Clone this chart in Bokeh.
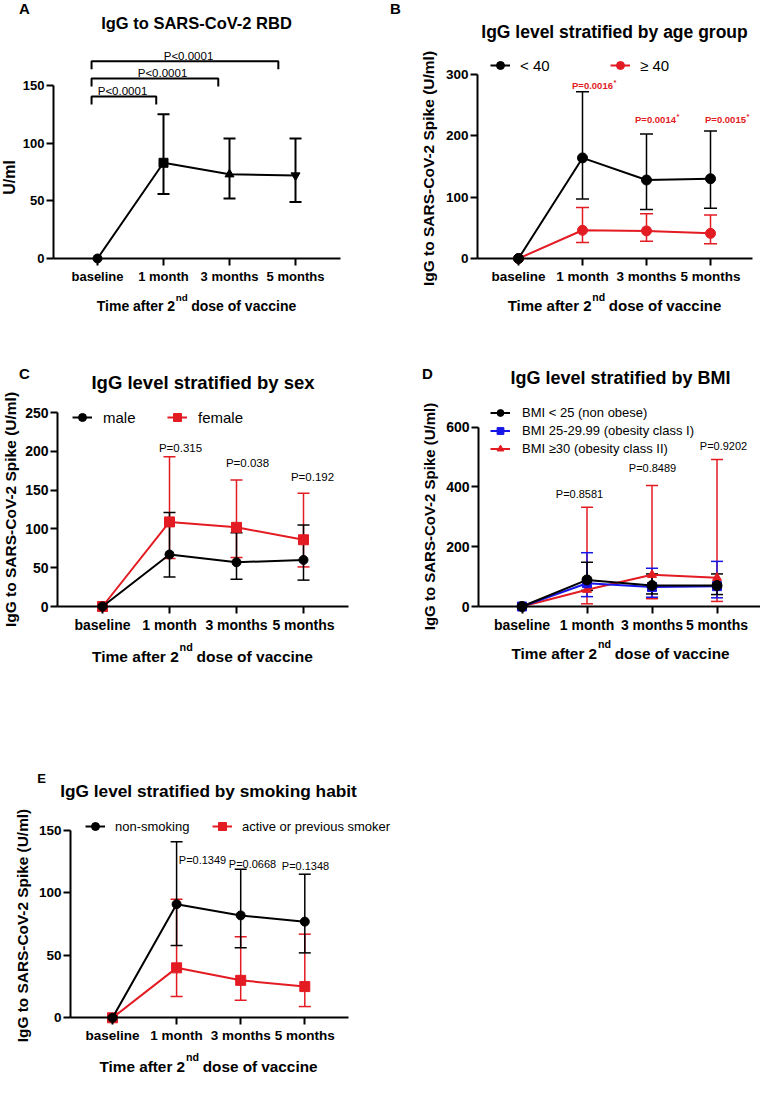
import math
from bokeh.plotting import figure
from bokeh.models import (Range1d, FixedTicker, Label, Legend, LegendItem,
                          Whisker, TeeHead, ColumnDataSource)
from bokeh.layouts import column, row
from bokeh.embed import file_html
from bokeh.resources import INLINE

# ---------------- data ----------------
categories = ["baseline", "1 month", "3 months", "5 months"]

rbd_median = [0, 83, 73, 72]
rbd_lower = [0, 56, 52, 49]
rbd_upper = [0, 125, 104, 104]
rbd_markers = ["circle", "square", "triangle", "inverted_triangle"]
rbd_pvalues = ["P<0.0001", "P<0.0001", "P<0.0001"]

age_labels = ["< 40", "≥ 40"]
age_under40 = [0, 164, 128, 130]
age_under40_lower = [0, 97, 80, 82]
age_under40_upper = [0, 272, 203, 208]
age_over40 = [0, 46, 45, 41]
age_over40_lower = [0, 26, 28, 24]
age_over40_upper = [0, 83, 73, 71]
age_pvalues = ["P=0.0016", "P=0.0014", "P=0.0015"]

sex_labels = ["male", "female"]
sex_male = [0, 67, 57, 60]
sex_male_lower = [0, 38, 35, 34]
sex_male_upper = [0, 121, 95, 105]
sex_female = [0, 109, 102, 86]
sex_female_lower = [0, 62, 63, 51]
sex_female_upper = [0, 193, 163, 146]
sex_pvalues = ["P=0.315", "P=0.038", "P=0.192"]

bmi_labels = ["BMI < 25 (non obese)", "BMI 25-29.99 (obesity class I)",
              "BMI \u226530 (obesity class II)"]
bmi_normal = [0, 89, 70, 70]
bmi_normal_lower = [0, 54, 42, 40]
bmi_normal_upper = [0, 148, 109, 109]
bmi_over = [0, 78, 65, 68]
bmi_over_lower = [0, 33, 31, 29]
bmi_over_upper = [0, 180, 128, 151]
bmi_obese = [0, 56, 106, 96]
bmi_obese_lower = [0, 9, 26, 17]
bmi_obese_upper = [0, 332, 405, 492]
bmi_pvalues = ["P=0.8581", "P=0.8489", "P=0.9202"]

smoke_labels = ["non-smoking", "active or previous smoker"]
smoke_non = [0, 91, 82, 77]
smoke_non_lower = [0, 58, 56, 52]
smoke_non_upper = [0, 141, 119, 115]
smoke_active = [0, 40, 30, 25]
smoke_active_lower = [0, 17, 14, 9]
smoke_active_upper = [0, 95, 65, 67]
smoke_pvalues = ["P=0.1349", "P=0.0668", "P=0.1348"]

# ---------------- styles ----------------
BLACK = "#000000"
RED = "#e31b23"
BLUE = "#1616e8"
FONT = "Liberation Sans"

ARIAL_BOLD = {' ': 278, 'T': 611, 'i': 278, 'm': 889, 'e': 556, 'a': 556, 'f': 333,
              't': 333, 'r': 389, '2': 556, 'n': 611, 'd': 611, 'o': 611, 's': 556,
              'v': 556, 'c': 556, 'P': 667, '=': 584, '.': 278}


def text_width(s, size):
    return sum(ARIAL_BOLD.get(ch, 556) for ch in s) * size / 1000.0


class Panel:
    """A figure whose whole canvas is the frame; axes are fixed at page pixel spots."""

    def __init__(self, origin, size, axis_left, axis_right, cat0, dcat, y0_px,
                 top_px, top_value, yticks, tick_fs):
        ox, oy = origin
        w, h = size
        self.ox, self.oy, self.w, self.h = ox, oy, w, h
        self.cat0, self.dcat, self.y0_px = cat0, dcat, y0_px
        self.scale = (y0_px - top_px) / top_value
        p = figure(width=w, height=h, title=None, output_backend="svg",
                   toolbar_location=None,
                   x_range=Range1d(self.xd(ox), self.xd(ox + w)),
                   y_range=Range1d(self.yd(oy + h), self.yd(oy)),
                   min_border_left=0, min_border_right=0,
                   min_border_top=0, min_border_bottom=0)
        p.outline_line_color = None
        p.xgrid.grid_line_color = None
        p.ygrid.grid_line_color = None
        for ax in (p.xaxis[0], p.yaxis[0]):
            ax.axis_line_width = 2
            ax.axis_line_color = BLACK
            ax.major_tick_line_width = 2
            ax.major_tick_line_color = BLACK
            ax.major_tick_in = 0
            ax.major_tick_out = 7
            ax.minor_tick_line_color = None
            ax.major_label_text_font = FONT
            ax.major_label_text_font_style = "bold"
            ax.major_label_text_font_size = f"{tick_fs}px"
            ax.major_label_text_color = BLACK
        xa = p.xaxis[0]
        xa.ticker = FixedTicker(ticks=list(range(len(categories))))
        xa.major_label_overrides = {i: c for i, c in enumerate(categories)}
        xa.fixed_location = 0
        xa.bounds = (self.xd(axis_left), self.xd(axis_right))
        xa.major_label_standoff = 3
        ya = p.yaxis[0]
        ya.ticker = FixedTicker(ticks=yticks)
        ya.fixed_location = self.xd(axis_left)
        ya.bounds = (0, top_value)
        ya.major_label_standoff = 2
        self.p = p

    def xd(self, px):
        return (px - self.cat0) / self.dcat

    def yd(self, py):
        return (self.y0_px - py) / self.scale

    def label(self, text, px, py, size, style="bold", align="center",
              baseline="middle", color=BLACK, angle=0.0):
        self.p.add_layout(Label(x=self.xd(px), y=self.yd(py), text=text,
                                text_font=FONT, text_font_size=f"{size}px",
                                text_font_style=style, text_align=align,
                                text_baseline=baseline, text_color=color,
                                angle=angle))

    def xtitle(self, cx, cy, fs):
        sfs = round(0.7 * fs, 1)
        w1 = text_width("Time after 2", fs)
        w2 = text_width("nd", sfs)
        ws = text_width(" ", fs)
        w3 = text_width("dose of vaccine", fs)
        x0 = cx - (w1 + w2 + ws + w3) / 2
        base = cy + 0.36 * fs - 3
        self.label("Time after 2", x0, base, fs, align="left", baseline="alphabetic")
        self.label("nd", x0 + w1 + 0.5, base - 0.6 * fs, sfs,
                   align="left", baseline="alphabetic")
        self.label("dose of vaccine", x0 + w1 + w2 + ws, base, fs,
                   align="left", baseline="alphabetic")

    def ytitle(self, text, cx, cy, fs):
        self.label(text, cx, cy, fs, angle=math.pi / 2)

    def series(self, values, lower, upper, color, marker, size, cap):
        p = self.p
        x = list(range(len(values)))
        ln = p.line(x, values, line_color=color, line_width=2)
        sc = p.scatter(x, values, marker=marker, size=size,
                       fill_color=color, line_color=color)
        keep = [i for i in x if upper[i] != lower[i]]
        src = ColumnDataSource(dict(x=[x[i] for i in keep],
                                    lower=[lower[i] for i in keep],
                                    upper=[upper[i] for i in keep]))
        p.add_layout(Whisker(source=src, base="x", lower="lower", upper="upper",
                             line_color=color, line_width=1.5,
                             upper_head=TeeHead(size=cap, line_color=color, line_width=1.5),
                             lower_head=TeeHead(size=cap, line_color=color, line_width=1.5)))
        return [ln, sc]

    def legend(self, items, glyph_left, first_center, orientation, glyph_w,
               standoff, label_w, row_h, spacing, fs):
        n = len(items)
        if orientation == "horizontal":
            bottom = first_center + row_h / 2
        else:
            bottom = first_center - row_h / 2 + n * row_h + (n - 1) * spacing
        leg = Legend(items=[LegendItem(label=txt, renderers=rs) for txt, rs in items],
                     orientation=orientation,
                     location=(glyph_left - self.ox, self.oy + self.h - bottom),
                     padding=0, margin=0, spacing=spacing,
                     glyph_width=glyph_w, glyph_height=row_h,
                     label_height=row_h, label_width=label_w,
                     label_standoff=standoff, label_text_font=FONT,
                     label_text_font_size=f"{fs}px", label_text_color=BLACK,
                     border_line_color=None, background_fill_alpha=0)
        self.p.add_layout(leg)


# ---------------- Panel A ----------------
A = Panel(origin=(0, 0), size=(380, 318), axis_left=53, axis_right=340,
          cat0=97, dcat=66, y0_px=258, top_px=85, top_value=150,
          yticks=[0, 50, 100, 150], tick_fs=13)
A.p.line(list(range(4)), rbd_median, line_color=BLACK, line_width=2)
srcA = ColumnDataSource(dict(x=[1, 2, 3], lower=rbd_lower[1:], upper=rbd_upper[1:]))
A.p.add_layout(Whisker(source=srcA, base="x", lower="lower", upper="upper",
                       line_color=BLACK, line_width=2,
                       upper_head=TeeHead(size=12, line_color=BLACK, line_width=2),
                       lower_head=TeeHead(size=12, line_color=BLACK, line_width=2)))
A.p.scatter(list(range(4)), rbd_median, marker=rbd_markers, size=9,
            fill_color=BLACK, line_color=BLACK)
# significance brackets (annotation positions in category / value units)
BR_X0 = -0.09
BR_X1 = [0.89, 1.83, 2.74]
BR_Y = [140.5, 156, 171]
BR_DROP = 8 / A.scale
A.p.multi_line(xs=[[BR_X0, BR_X0, x1, x1] for x1 in BR_X1],
               ys=[[y - BR_DROP, y, y, y - BR_DROP] for y in BR_Y],
               line_color=BLACK, line_width=2)
BR_TEXT_X = [122, 162, 188]
for txt, tx, by in zip(rbd_pvalues, BR_TEXT_X, BR_Y):
    A.label(txt, tx, A.y0_px - by * A.scale - 5.5, 11.5, style="normal")
A.label("A", 24, 8, 15)
A.label("IgG to SARS-CoV-2 RBD", 196, 22, 16.5)
A.ytitle("U/ml", 9, 177, 16)
A.xtitle(196, 303, 14)

# ---------------- Panel B ----------------
B = Panel(origin=(380, 0), size=(380, 318), axis_left=477, axis_right=752,
          cat0=518, dcat=64, y0_px=258, top_px=74, top_value=300,
          yticks=[0, 100, 200, 300], tick_fs=13.5)
rb_old = B.series(age_over40, age_over40_lower, age_over40_upper, RED, "circle", 10, 13)
rb_young = B.series(age_under40, age_under40_lower, age_under40_upper, BLACK, "circle", 10, 13)
B.legend([(age_labels[0], rb_young), (age_labels[1], rb_old)], glyph_left=490,
         first_center=65, orientation="horizontal", glyph_w=20, standoff=10,
         label_w=90, row_h=26, spacing=0, fs=15)
B_P_POS = [(592, 85), (655, 119), (725, 119)]
for txt, (px, py) in zip(age_pvalues, B_P_POS):
    B.label(txt, px, py, 9.5, color=RED)
    B.label("*", px + text_width(txt, 9.5) / 2 + 0.5, py - 3, 7.5, color=RED,
            align="left")
B.label("B", 395, 8, 15)
B.label("IgG level stratified by age group", 614, 31, 17.5)
B.ytitle("IgG to SARS-CoV-2 Spike (U/ml)", 428, 168, 15.5)
B.xtitle(614, 303, 15)

# ---------------- Panel C ----------------
C = Panel(origin=(0, 318), size=(380, 352), axis_left=57, axis_right=348,
          cat0=102, dcat=67, y0_px=606, top_px=412, top_value=250,
          yticks=[0, 50, 100, 150, 200, 250], tick_fs=14)
rc_f = C.series(sex_female, sex_female_lower, sex_female_upper, RED, "square", 10, 12)
rc_m = C.series(sex_male, sex_male_lower, sex_male_upper, BLACK, "circle", 9, 12)
C.legend([(sex_labels[0], rc_m), (sex_labels[1], rc_f)], glyph_left=72,
         first_center=417, orientation="horizontal", glyph_w=20, standoff=11,
         label_w=64, row_h=26, spacing=0, fs=15)
C_P_POS = [(180, 447), (247, 462), (312, 476)]
for txt, (px, py) in zip(sex_pvalues, C_P_POS):
    C.label(txt, px, py, 11.5, style="normal")
C.label("C", 24, 373, 15)
C.label("IgG level stratified by sex", 202.5, 382, 18.5)
C.ytitle("IgG to SARS-CoV-2 Spike (U/ml)", 10, 509, 15.5)
C.xtitle(202, 653, 15.5)

# ---------------- Panel D ----------------
D = Panel(origin=(380, 318), size=(380, 352), axis_left=478, axis_right=760,
          cat0=521.5, dcat=65, y0_px=606, top_px=426.7, top_value=600,
          yticks=[0, 200, 400, 600], tick_fs=14)
rd_ob = D.series(bmi_obese, bmi_obese_lower, bmi_obese_upper, RED, "triangle", 9, 12)
rd_ov = D.series(bmi_over, bmi_over_lower, bmi_over_upper, BLUE, "square", 9, 12)
rd_n = D.series(bmi_normal, bmi_normal_lower, bmi_normal_upper, BLACK, "circle", 10, 12)
D.legend([(bmi_labels[0], rd_n), (bmi_labels[1], rd_ov), (bmi_labels[2], rd_ob)],
         glyph_left=490, first_center=412, orientation="vertical", glyph_w=20,
         standoff=12, label_w=60, row_h=17, spacing=1, fs=13)
D_P_POS = [(579, 493), (652, 467), (723, 445)]
for txt, (px, py) in zip(bmi_pvalues, D_P_POS):
    D.label(txt, px, py, 11, style="normal")
D.label("D", 427, 373, 15)
D.label("IgG level stratified by BMI", 620, 377, 18)
D.ytitle("IgG to SARS-CoV-2 Spike (U/ml)", 429, 516, 15)
D.xtitle(620, 650, 15.3)

# ---------------- Panel E ----------------
E = Panel(origin=(0, 670), size=(420, 430), axis_left=70, axis_right=348,
          cat0=112, dcat=64.1, y0_px=1017.3, top_px=830, top_value=150,
          yticks=[0, 50, 100, 150], tick_fs=13.5)
re_a = E.series(smoke_active, smoke_active_lower, smoke_active_upper, RED, "square", 10, 12)
re_n = E.series(smoke_non, smoke_non_lower, smoke_non_upper, BLACK, "circle", 9, 12)
E.legend([(smoke_labels[0], re_n), (smoke_labels[1], re_a)], glyph_left=85,
         first_center=826, orientation="horizontal", glyph_w=20, standoff=10,
         label_w=97, row_h=22, spacing=0, fs=13)
E_P_POS = [(202, 859), (252, 863), (305, 865)]
for txt, (px, py) in zip(smoke_pvalues, E_P_POS):
    E.label(txt, px, py, 11, style="normal")
E.label("E", 41, 778, 13)
E.label("IgG level stratified by smoking habit", 208, 790, 17.3)
E.ytitle("IgG to SARS-CoV-2 Spike (U/ml)", 22, 925, 15.4)
E.xtitle(208, 1063, 15.3)

layout = column(row(A.p, B.p), row(C.p, D.p), E.p)
open("out.html", "w").write(file_html(layout, INLINE))
